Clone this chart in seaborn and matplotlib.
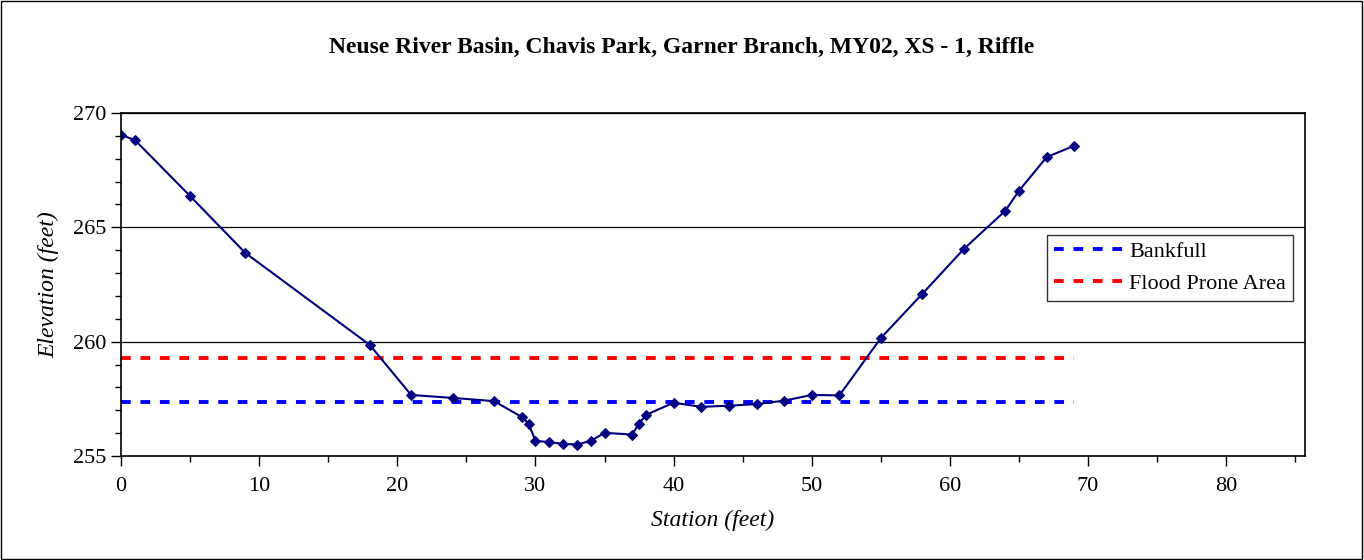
import pandas as pd
import matplotlib.pyplot as plt
import seaborn as sns
from matplotlib.patches import Rectangle
from matplotlib.ticker import MultipleLocator

# cross-section survey, MY02 XS-1
station = [0, 1, 5, 9, 18, 21, 24, 27, 29, 29.5, 30, 31, 32, 33, 34, 35, 37, 37.5, 38,
           40, 42, 44, 46, 48, 50, 52, 55, 58, 61, 64, 65, 67, 69]
elevation = [269.04, 268.82, 266.37, 263.88, 259.86, 257.67, 257.54, 257.40, 256.71, 256.42,
             255.66, 255.61, 255.53, 255.50, 255.66, 256.01, 255.94, 256.42, 256.80,
             257.33, 257.15, 257.20, 257.27, 257.42, 257.67, 257.65, 260.16, 262.09,
             264.05, 265.72, 266.60, 268.07, 268.57]
bankfull_elev = 257.38
flood_prone_elev = 259.30
line_extent = [0, 69]

data = pd.DataFrame({'station': station, 'elevation': elevation})

sns.set_style('ticks')
plt.rcParams['font.family'] = ['Liberation Serif', 'DejaVu Serif']
plt.rcParams.update({'text.color': 'black', 'axes.labelcolor': 'black',
                     'xtick.color': 'black', 'ytick.color': 'black'})

fig = plt.figure(figsize=(13.64, 5.6), dpi=100)
ax = fig.add_axes([121 / 1364, 1 - 456 / 560, (1305 - 121) / 1364, (456 - 113) / 560])

ax.plot(line_extent, [bankfull_elev] * 2, color='#0000ff', lw=2.8,
        linestyle=(0, (2.5, 2.5)), label='Bankfull')
ax.plot(line_extent, [flood_prone_elev] * 2, color='#ff0000', lw=2.8,
        linestyle=(0, (2.5, 2.5)), label='Flood Prone Area')
sns.lineplot(data=data, x='station', y='elevation', ax=ax, color='#000080', lw=1.5,
             marker='D', markersize=5.5, markeredgecolor='#000080', sort=False,
             estimator=None, legend=False)

ax.set_xlim(0, 85.7)
ax.set_ylim(255, 270)
ax.xaxis.set_major_locator(MultipleLocator(10))
ax.xaxis.set_minor_locator(MultipleLocator(5))
ax.yaxis.set_major_locator(MultipleLocator(5))
ax.yaxis.set_minor_locator(MultipleLocator(1))
ax.tick_params(which='major', direction='out', length=7, width=1, labelsize=16,
               color='black', labelcolor='black')
ax.tick_params(which='minor', direction='out', length=4, width=1, color='black')
ax.tick_params(axis='x', pad=8)
ax.grid(axis='y', which='major', color='black', lw=0.9)
for s in ax.spines.values():
    s.set_color('black')
    s.set_linewidth(1.2)

ax.set_xlabel('Station (feet)', fontsize=17, style='italic', labelpad=10, color='black')
ax.set_ylabel('Elevation (feet)', fontsize=17, style='italic', labelpad=10, color='black')
fig.text(0.5, 1 - 47 / 560, 'Neuse River Basin, Chavis Park, Garner Branch, MY02, XS - 1, Riffle',
         ha='center', va='center', fontsize=17, fontweight='bold', color='black')

leg = ax.legend(loc='upper left', bbox_to_anchor=((1047 - 121) / 1184, 1 - (235 - 113) / 343),
                fontsize=16, frameon=True, fancybox=False, handlelength=3.3,
                handletextpad=0.1, borderpad=0.3, labelspacing=0.5, borderaxespad=0)
leg.get_frame().set_edgecolor('black')
leg.get_frame().set_linewidth(1)
for t in leg.get_texts():
    t.set_color('black')

fig.patches.append(Rectangle((0.0005, 0.001), 0.998, 0.997, transform=fig.transFigure,
                             fill=False, edgecolor='black', lw=1))

plt.savefig('out.png', dpi=100)
